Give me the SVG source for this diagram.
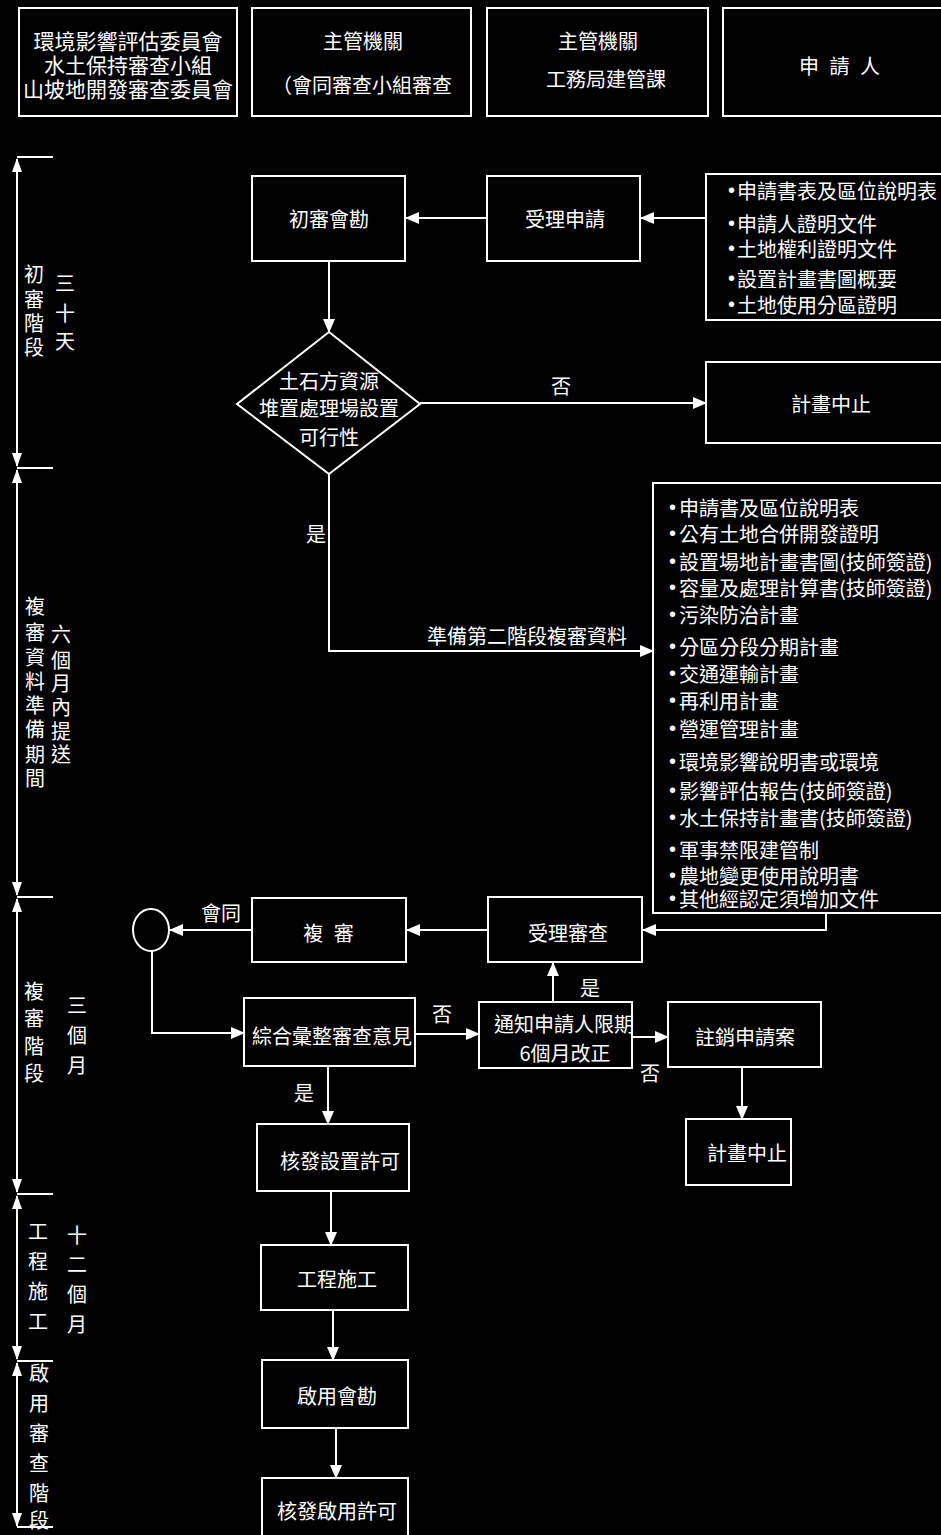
<svg xmlns="http://www.w3.org/2000/svg" width="941" height="1535" viewBox="0 0 941 1535">
<style>
text{font-family:"Noto Sans CJK TC","Noto Sans CJK SC",sans-serif;fill:#fff;font-size:20px;dominant-baseline:central}
.c{text-anchor:middle}
.b{font-family:"Liberation Sans",sans-serif}
.box{fill:none;stroke:#fff;stroke-width:2}
.ln{fill:none;stroke:#fff;stroke-width:2}
.arr{marker-end:url(#ah)}
.tl{fill:none;stroke:#fff;stroke-width:2;marker-start:url(#th);marker-end:url(#th)}
</style>
<defs>
<marker id="ah" markerUnits="userSpaceOnUse" markerWidth="14" markerHeight="12" refX="13" refY="6" orient="auto"><path d="M0,0 L14,6 L0,12 z" fill="#fff"/></marker>
<marker id="th" markerUnits="userSpaceOnUse" markerWidth="14" markerHeight="10" refX="13" refY="5" orient="auto-start-reverse"><path d="M0,0 L14,5 L0,10 z" fill="#fff"/></marker>
</defs>
<rect x="0" y="0" width="941" height="1535" fill="#000"/>

<g id="timeline">
<line class="tl" x1="17" y1="159" x2="17" y2="466"/>
<line class="tl" x1="17" y1="470" x2="17" y2="895"/>
<line class="tl" x1="17" y1="899" x2="17" y2="1192"/>
<line class="tl" x1="17" y1="1196" x2="17" y2="1359"/>
<line class="tl" x1="17" y1="1363" x2="17" y2="1526"/>
<g class="ln">
<line x1="17" y1="157" x2="53" y2="157"/>
<line x1="17" y1="468" x2="53" y2="468"/>
<line x1="17" y1="897" x2="53" y2="897"/>
<line x1="17" y1="1194" x2="53" y2="1194"/>
<line x1="17" y1="1361" x2="53" y2="1361"/>
<line x1="17" y1="1527" x2="53" y2="1527"/>
</g>
<text class="c"><tspan x="34" y="273">初</tspan><tspan x="34" y="298">審</tspan><tspan x="34" y="322">階</tspan><tspan x="34" y="346">段</tspan></text>
<text class="c"><tspan x="65" y="282">三</tspan><tspan x="65" y="312">十</tspan><tspan x="65" y="340">天</tspan></text>
<text class="c"><tspan x="35" y="605">複</tspan><tspan x="35" y="631">審</tspan><tspan x="35" y="656">資</tspan><tspan x="35" y="680">料</tspan><tspan x="35" y="704">準</tspan><tspan x="35" y="728">備</tspan><tspan x="35" y="753">期</tspan><tspan x="35" y="777">間</tspan></text>
<text class="c"><tspan x="61" y="633">六</tspan><tspan x="61" y="659">個</tspan><tspan x="61" y="682">月</tspan><tspan x="61" y="706">內</tspan><tspan x="61" y="730">提</tspan><tspan x="61" y="753">送</tspan></text>
<text class="c"><tspan x="34" y="990">複</tspan><tspan x="34" y="1017">審</tspan><tspan x="34" y="1045">階</tspan><tspan x="34" y="1072">段</tspan></text>
<text class="c"><tspan x="77" y="1004">三</tspan><tspan x="77" y="1034">個</tspan><tspan x="77" y="1064">月</tspan></text>
<text class="c"><tspan x="38" y="1230">工</tspan><tspan x="38" y="1260">程</tspan><tspan x="38" y="1290">施</tspan><tspan x="38" y="1320">工</tspan></text>
<text class="c"><tspan x="77" y="1234">十</tspan><tspan x="77" y="1263">二</tspan><tspan x="77" y="1293">個</tspan><tspan x="77" y="1323">月</tspan></text>
<text class="c"><tspan x="39" y="1372">啟</tspan><tspan x="39" y="1402">用</tspan><tspan x="39" y="1432">審</tspan><tspan x="39" y="1462">查</tspan><tspan x="39" y="1492">階</tspan><tspan x="39" y="1519">段</tspan></text>
</g>

<g id="header1"><rect class="box" x="19" y="8" width="218" height="108"/>
<text class="c" x="128" y="40" style="font-size:21px">環境影響評估委員會</text>
<text class="c" x="128" y="64" style="font-size:21px">水土保持審查小組</text>
<text class="c" x="128" y="88" style="font-size:21px">山坡地開發審查委員會</text></g>
<g id="header2"><rect class="box" x="252" y="8" width="219" height="108"/>
<text class="c" x="363" y="40">主管機關</text>
<text x="272" y="84">（會同審查小組審查</text></g>
<g id="header3"><rect class="box" x="487" y="8" width="221" height="108"/>
<text class="c" x="598" y="40">主管機關</text>
<text class="c" x="606" y="78">工務局建管課</text></g>
<g id="header4"><rect class="box" x="723" y="8" width="230" height="108"/>
<text class="c" x="841" y="65" style="letter-spacing:3px">申 請 人</text></g>

<g id="n-chushen"><rect class="box" x="252" y="176" width="153" height="85"/><text class="c" x="329" y="218">初審會勘</text></g>
<g id="n-shouli"><rect class="box" x="487" y="176" width="153" height="85"/><text class="c" x="565" y="218">受理申請</text></g>
<g id="n-docs1"><rect class="box" x="706" y="174" width="250" height="146"/>
<text x="728" y="190"><tspan class="b">•</tspan><tspan dx="2">申請書表及區位說明表</tspan></text>
<text x="728" y="223"><tspan class="b">•</tspan><tspan dx="2">申請人證明文件</tspan></text>
<text x="728" y="248"><tspan class="b">•</tspan><tspan dx="2">土地權利證明文件</tspan></text>
<text x="728" y="278"><tspan class="b">•</tspan><tspan dx="2">設置計畫書圖概要</tspan></text>
<text x="728" y="304"><tspan class="b">•</tspan><tspan dx="2">土地使用分區證明</tspan></text></g>
<g id="n-diamond"><polygon class="box" points="329,332 420,404 329,474 237,404"/>
<text class="c" x="329" y="380">土石方資源</text>
<text class="c" x="329" y="407">堆置處理場設置</text>
<text class="c" x="329" y="436">可行性</text></g>
<g id="n-stop1"><rect class="box" x="706" y="362" width="250" height="81"/><text class="c" x="831" y="403">計畫中止</text></g>
<g id="n-docs2"><rect class="box" x="653" y="483" width="300" height="430"/>
<text x="669" y="507"><tspan class="b">•</tspan><tspan dx="3">申請書及區位說明表</tspan></text>
<text x="669" y="533"><tspan class="b">•</tspan><tspan dx="3">公有土地合併開發證明</tspan></text>
<text x="669" y="561"><tspan class="b">•</tspan><tspan dx="3">設置場地計畫書圖(技師簽證)</tspan></text>
<text x="669" y="587"><tspan class="b">•</tspan><tspan dx="3">容量及處理計算書(技師簽證)</tspan></text>
<text x="669" y="614"><tspan class="b">•</tspan><tspan dx="3">污染防治計畫</tspan></text>
<text x="669" y="646"><tspan class="b">•</tspan><tspan dx="3">分區分段分期計畫</tspan></text>
<text x="669" y="673"><tspan class="b">•</tspan><tspan dx="3">交通運輸計畫</tspan></text>
<text x="669" y="700"><tspan class="b">•</tspan><tspan dx="3">再利用計畫</tspan></text>
<text x="669" y="728"><tspan class="b">•</tspan><tspan dx="3">營運管理計畫</tspan></text>
<text x="669" y="761"><tspan class="b">•</tspan><tspan dx="3">環境影響說明書或環境</tspan></text>
<text x="669" y="790"><tspan class="b">•</tspan><tspan dx="3">影響評估報告(技師簽證)</tspan></text>
<text x="669" y="817"><tspan class="b">•</tspan><tspan dx="3">水土保持計畫書(技師簽證)</tspan></text>
<text x="669" y="849"><tspan class="b">•</tspan><tspan dx="3">軍事禁限建管制</tspan></text>
<text x="669" y="875"><tspan class="b">•</tspan><tspan dx="3">農地變更使用說明書</tspan></text>
<text x="669" y="898"><tspan class="b">•</tspan><tspan dx="3">其他經認定須增加文件</tspan></text></g>

<g id="n-shoulishencha"><rect class="box" x="488" y="897" width="154" height="65"/><text class="c" x="568" y="932">受理審查</text></g>
<g id="n-fushen"><rect class="box" x="252" y="898" width="154" height="64"/><text class="c" x="330" y="932" style="letter-spacing:3px">複 審</text></g>
<g id="n-circle"><ellipse class="box" cx="151" cy="930" rx="18" ry="21"/></g>
<g id="n-zonghe"><rect class="box" x="244" y="998" width="171" height="68"/><text class="c" x="332" y="1035">綜合彙整審查意見</text></g>
<g id="n-tongzhi"><rect class="box" x="479" y="1002" width="153" height="66"/>
<text class="c" x="564" y="1023">通知申請人限期</text>
<text class="c" x="565" y="1052">6個月改正</text></g>
<g id="n-zhuxiao"><rect class="box" x="668" y="1002" width="153" height="65"/><text class="c" x="745" y="1036">註銷申請案</text></g>
<g id="n-stop2"><rect class="box" x="686" y="1119" width="105" height="66"/><text class="c" x="747" y="1152">計畫中止</text></g>
<g id="n-hefa1"><rect class="box" x="257" y="1124" width="152" height="67"/><text class="c" x="340" y="1160">核發設置許可</text></g>
<g id="n-gongcheng"><rect class="box" x="261" y="1245" width="147" height="65"/><text class="c" x="337" y="1278">工程施工</text></g>
<g id="n-qiyong"><rect class="box" x="262" y="1360" width="146" height="68"/><text class="c" x="337" y="1395">啟用會勘</text></g>
<g id="n-hefa2"><rect class="box" x="262" y="1478" width="146" height="70"/><text class="c" x="337" y="1510">核發啟用許可</text></g>

<g id="connectors">
<line class="ln arr" x1="706" y1="218" x2="641" y2="218"/>
<line class="ln arr" x1="487" y1="218" x2="406" y2="218"/>
<line class="ln arr" x1="329" y1="261" x2="329" y2="332"/>
<line class="ln arr" x1="420" y1="403" x2="706" y2="403"/>
<polyline class="ln arr" points="329,474 329,651 653,651"/>
<polyline class="ln arr" points="826,913 826,930 643,930"/>
<line class="ln arr" x1="488" y1="930" x2="407" y2="930"/>
<line class="ln arr" x1="252" y1="930" x2="170" y2="930"/>
<polyline class="ln arr" points="152,951 152,1033 244,1033"/>
<line class="ln arr" x1="415" y1="1034" x2="479" y2="1034"/>
<line class="ln arr" x1="553" y1="1002" x2="553" y2="963"/>
<line class="ln arr" x1="632" y1="1037" x2="668" y2="1037"/>
<line class="ln arr" x1="742" y1="1067" x2="742" y2="1119"/>
<line class="ln arr" x1="328" y1="1066" x2="328" y2="1124"/>
<line class="ln arr" x1="331" y1="1191" x2="331" y2="1245"/>
<line class="ln arr" x1="333" y1="1310" x2="333" y2="1360"/>
<line class="ln arr" x1="336" y1="1428" x2="336" y2="1478"/>
<text class="c" x="561" y="385">否</text>
<text class="c" x="316" y="533">是</text>
<text class="c" x="527" y="635">準備第二階段複審資料</text>
<text class="c" x="221" y="912">會同</text>
<text class="c" x="442" y="1013">否</text>
<text class="c" x="590" y="987">是</text>
<text class="c" x="650" y="1072">否</text>
<text class="c" x="304" y="1092">是</text>
</g>
</svg>
